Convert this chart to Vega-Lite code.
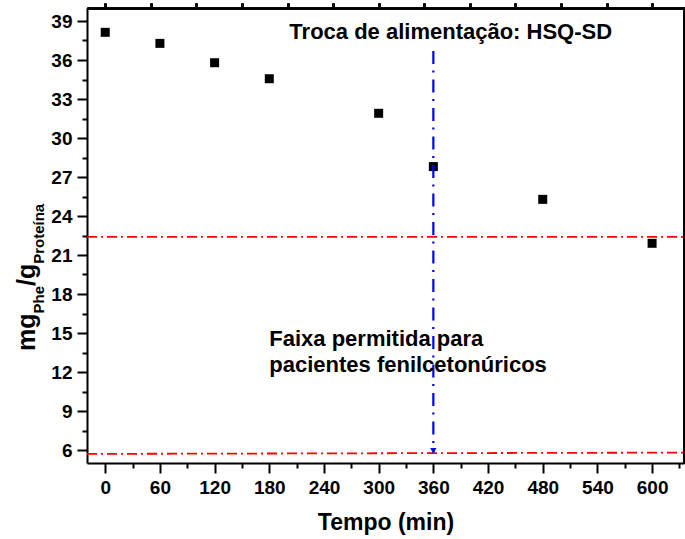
{
  "$schema": "https://vega.github.io/schema/vega-lite/v6.json",
  "width": 597,
  "height": 455,
  "autosize": {"type": "none"},
  "padding": {"left": 87, "top": 8, "right": 1, "bottom": 76},
  "background": "white",
  "config": {
    "view": {"stroke": null},
    "font": "Liberation Sans",
    "axis": {"grid": false, "domainColor": "black", "tickColor": "black", "labelColor": "black", "titleColor": "black", "domainWidth": 2, "tickWidth": 2, "labelFlush": false, "labelBound": false, "labelOverlap": false}
  },
  "datasets": {
    "pontos": [
      {"tempo": 0, "valor": 38.13},
      {"tempo": 60, "valor": 37.28},
      {"tempo": 120, "valor": 35.79},
      {"tempo": 180, "valor": 34.56},
      {"tempo": 300, "valor": 31.9},
      {"tempo": 360, "valor": 27.8},
      {"tempo": 480, "valor": 25.28},
      {"tempo": 600, "valor": 21.9}
    ],
    "limites": [
      {"linha": "superior", "tempo": -20, "valor": 22.4},
      {"linha": "superior", "tempo": 635, "valor": 22.4},
      {"linha": "inferior", "tempo": -20, "valor": 5.7},
      {"linha": "inferior", "tempo": 635, "valor": 5.8}
    ],
    "troca": [
      {"tempo": 360, "topo": 36.7, "base": 5.8}
    ],
    "seta": [
      {"tempo": 360, "valor": 5.95}
    ],
    "notas": [
      {"tempo": 202, "valor": 38.15, "texto": "Troca de alimentação: HSQ-SD"},
      {"tempo": 180, "valor": 14.54, "texto": "Faixa permitida para"},
      {"tempo": 180, "valor": 12.54, "texto": "pacientes fenilcetonúricos"}
    ],
    "titulo_grande": [
      {"tempo": -77, "valor": 13.62, "texto": "mg"},
      {"tempo": -77, "valor": 18.62, "texto": "/g"}
    ],
    "titulo_sub": [
      {"tempo": -77, "valor": 16.5, "texto": "Phe"},
      {"tempo": -77, "valor": 20.32, "texto": "Proteína"}
    ]
  },
  "layer": [
    {
      "data": {"name": "limites"},
      "mark": {"type": "line", "color": "#FF0000", "strokeWidth": 1.8, "strokeDash": [10, 4, 2, 4], "clip": false},
      "encoding": {
        "x": {"field": "tempo", "type": "quantitative", "scale": {"domain": [-20, 635], "nice": false, "zero": false},
          "axis": {"orient": "bottom", "values": [30, 90, 150, 210, 270, 330, 390, 450, 510, 570, 630], "labels": false, "domain": false, "tickSize": 5, "title": null}},
        "y": {"field": "valor", "type": "quantitative", "scale": {"domain": [5, 40], "nice": false, "zero": false},
          "axis": {"orient": "left", "values": [7.5, 10.5, 13.5, 16.5, 19.5, 22.5, 25.5, 28.5, 31.5, 34.5, 37.5], "labels": false, "domain": false, "tickSize": 5, "title": null}},
        "detail": {"field": "linha"}
      }
    },
    {
      "data": {"name": "pontos"},
      "mark": {"type": "point", "shape": "square", "filled": true, "color": "black", "opacity": 1, "size": 81},
      "encoding": {
        "x": {"field": "tempo", "type": "quantitative", "scale": {"domain": [-20, 635], "nice": false, "zero": false},
          "axis": {"orient": "bottom", "values": [0, 60, 120, 180, 240, 300, 360, 420, 480, 540, 600], "tickSize": 10, "labelFontSize": 19, "labelFontWeight": "bold", "labelPadding": 5, "title": "Tempo (min)", "titleFontSize": 23, "titleFontWeight": "bold", "titlePadding": 14}},
        "y": {"field": "valor", "type": "quantitative", "scale": {"domain": [5, 40], "nice": false, "zero": false},
          "axis": {"orient": "left", "values": [6, 9, 12, 15, 18, 21, 24, 27, 30, 33, 36, 39], "tickSize": 10, "labelFontSize": 19, "labelFontWeight": "bold", "labelPadding": 5, "title": null}}
      }
    },
    {
      "data": {"name": "troca"},
      "mark": {"type": "rule", "color": "#0000FF", "strokeWidth": 2.2, "strokeDash": [13, 6.5, 2, 7]},
      "encoding": {
        "x": {"field": "tempo", "type": "quantitative"},
        "y": {"field": "topo", "type": "quantitative"},
        "y2": {"field": "base"}
      }
    },
    {
      "data": {"name": "seta"},
      "mark": {"type": "point", "shape": "triangle-down", "filled": true, "color": "#0000FF", "opacity": 1, "size": 40},
      "encoding": {
        "x": {"field": "tempo", "type": "quantitative"},
        "y": {"field": "valor", "type": "quantitative"}
      }
    },
    {
      "data": {"name": "notas"},
      "mark": {"type": "text", "align": "left", "baseline": "middle", "fontSize": 22, "fontWeight": "bold", "color": "black"},
      "encoding": {
        "x": {"field": "tempo", "type": "quantitative"},
        "y": {"field": "valor", "type": "quantitative"},
        "text": {"field": "texto"}
      }
    },
    {
      "data": {"name": "titulo_grande"},
      "mark": {"type": "text", "align": "left", "baseline": "alphabetic", "angle": 270, "fontSize": 25, "fontWeight": "bold", "color": "black", "clip": false},
      "encoding": {
        "x": {"field": "tempo", "type": "quantitative"},
        "y": {"field": "valor", "type": "quantitative"},
        "text": {"field": "texto"}
      }
    },
    {
      "data": {"name": "titulo_sub"},
      "mark": {"type": "text", "align": "left", "baseline": "alphabetic", "angle": 270, "dy": 9, "fontSize": 15, "fontWeight": "bold", "color": "black", "clip": false},
      "encoding": {
        "x": {"field": "tempo", "type": "quantitative"},
        "y": {"field": "valor", "type": "quantitative"},
        "text": {"field": "texto"}
      }
    }
  ],
  "resolve": {"axis": {"x": "independent", "y": "independent"}}
}
